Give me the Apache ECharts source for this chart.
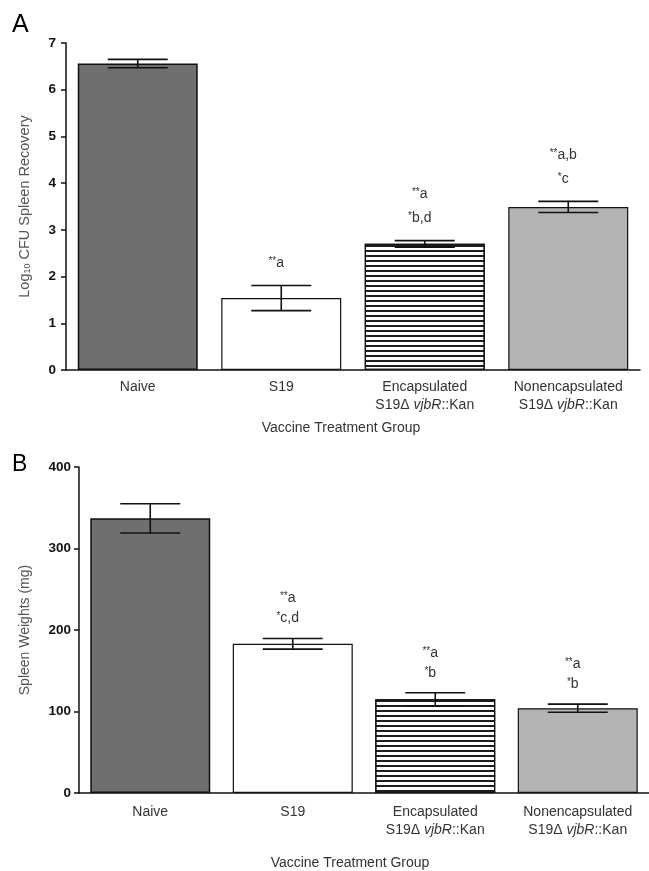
<!DOCTYPE html>
<html><head><meta charset="utf-8">
<script src="https://cdn.jsdelivr.net/npm/echarts@6/dist/echarts.min.js"></script>
<style>html,body{margin:0;padding:0;background:#fff}#c{width:649px;height:871px}</style>
</head><body><div id="c"></div>
<script>
const categories = ['Naive', 'S19', 'Encapsulated\nS19Δ {i|vjbR}::Kan', 'Nonencapsulated\nS19Δ {i|vjbR}::Kan'];
const cfuMeans = [6.56, 1.54, 2.70, 3.49];
const cfuErrors = [0.09, 0.27, 0.07, 0.12];
const weightMeans = [337, 183, 115, 104];
const weightErrors = [18, 6.5, 8, 5];
const cfuNotes = [[], ['**a'], ['**a', '*b,d'], ['**a,b', '*c']];
const weightNotes = [[], ['**a', '*c,d'], ['**a', '*b'], ['**a', '*b']];
const cfuAxis = { min: 0, max: 7, interval: 1 };
const weightAxis = { min: 0, max: 400, interval: 100 };

const FONT = '"Liberation Sans", Arial, Helvetica, sans-serif';
const barStyles = [
  { color: '#6f6f6f', borderColor: '#111', borderWidth: 1.5 },
  { color: '#ffffff', borderColor: '#111', borderWidth: 1.2 },
  { color: '#ffffff', borderColor: '#111', borderWidth: 1.2,
    decal: { symbol: 'rect', symbolSize: 1, dashArrayX: [1, 0], dashArrayY: [1.5, 2.5], rotation: 0, color: '#1e1e1e' } },
  { color: '#b4b4b4', borderColor: '#111', borderWidth: 1.2 }
];

function fmtNote(t) {
  const m = t.match(/^(\*+)(.*)$/);
  return m ? '{s|' + m[1] + '}{t|' + m[2] + '}' : '{t|' + t + '}';
}

function errSeries(idx, means, errs, notes, gap, step) {
  return {
    type: 'custom', xAxisIndex: idx, yAxisIndex: idx, z: 5,
    data: means.map((m, i) => [i, m, errs[i]]),
    encode: { x: 0, y: 1 },
    renderItem: function (params, api) {
      const i = api.value(0), m = api.value(1), e = api.value(2);
      const top = api.coord([i, m + e]);
      const bot = api.coord([i, m - e]);
      const x = top[0], hw = 30;
      const st = { stroke: '#111', lineWidth: 1.6 };
      const children = [
        { type: 'line', shape: { x1: x, y1: top[1], x2: x, y2: bot[1] }, style: st },
        { type: 'line', shape: { x1: x - hw, y1: top[1], x2: x + hw, y2: top[1] }, style: st },
        { type: 'line', shape: { x1: x - hw, y1: bot[1], x2: x + hw, y2: bot[1] }, style: st }
      ];
      const lines = notes[i];
      lines.forEach((t, k) => {
        const fromBottom = lines.length - 1 - k;
        children.push({
          type: 'text', x: x - 5, y: top[1] - gap - fromBottom * step,
          style: {
            text: fmtNote(t), align: 'center', verticalAlign: 'middle',
            fill: '#333', fontFamily: FONT, fontSize: 14,
            rich: {
              s: { fontSize: 10, fontFamily: FONT, fill: '#333', verticalAlign: 'top', padding: [0, 0, 4, 0] },
              t: { fontSize: 14, fontFamily: FONT, fill: '#333' }
            }
          }
        });
      });
      return { type: 'group', children };
    }
  };
}

const chart = echarts.init(document.getElementById('c'), null, { renderer: 'canvas' });

function xAxisCfg(gridIndex, margin, nameGap, namePadRight) {
  return {
    type: 'category', gridIndex, data: categories,
    axisLine: { lineStyle: { color: '#111', width: 1.5 } },
    axisTick: { show: false },
    axisLabel: {
      interval: 0, margin, color: '#333', fontSize: 14, fontFamily: FONT, lineHeight: 18,
      rich: { i: { fontStyle: 'italic', fontSize: 14, fontFamily: FONT, color: '#333', lineHeight: 18 } }
    },
    name: 'Vaccine Treatment Group', nameLocation: 'middle', nameGap,
    nameTextStyle: { color: '#333', fontSize: 14, fontFamily: FONT, padding: [0, namePadRight, 0, 0] }
  };
}

function yAxisCfg(gridIndex, ax, name, nameGap, labelMargin, nameSize) {
  return {
    type: 'value', gridIndex, min: ax.min, max: ax.max, interval: ax.interval,
    axisLine: { show: true, lineStyle: { color: '#111', width: 1.5 } },
    axisTick: { show: true, length: 5, lineStyle: { color: '#111', width: 1.5 } },
    splitLine: { show: false },
    axisLabel: { color: '#111', fontWeight: 'bold', fontSize: 13.5, fontFamily: FONT, margin: labelMargin },
    name, nameLocation: 'middle', nameGap,
    nameTextStyle: {
      color: '#555', fontSize: nameSize, fontFamily: FONT,
      rich: { sub: { fontSize: 9, fontFamily: FONT, color: '#555', verticalAlign: 'bottom' } }
    }
  };
}

chart.setOption({
  animation: false,
  backgroundColor: '#fff',
  title: [
    { text: 'A', left: 12, top: 13, padding: 0, textStyle: { fontSize: 25, fontWeight: 'normal', color: '#000', fontFamily: FONT } },
    { text: 'B', left: 12, top: 453, padding: 0, textStyle: { fontSize: 23, fontWeight: 'normal', color: '#000', fontFamily: FONT } }
  ],
  grid: [
    { left: 66, top: 43, width: 574, height: 327 },
    { left: 79, top: 467, width: 578, height: 328 }
  ],
  xAxis: [xAxisCfg(0, 8, 51, 24), xAxisCfg(1, 10, 63, 28)],
  yAxis: [
    yAxisCfg(0, cfuAxis, 'Log{sub|10} CFU Spleen Recovery', 34, 10, 14.5),
    yAxisCfg(1, weightAxis, 'Spleen Weights (mg)', 47, 8, 14)
  ],
  series: [
    { type: 'bar', xAxisIndex: 0, yAxisIndex: 0, barWidth: 120,
      data: cfuMeans.map((v, i) => ({ value: v, itemStyle: barStyles[i] })) },
    errSeries(0, cfuMeans, cfuErrors, cfuNotes, 22, 24),
    { type: 'bar', xAxisIndex: 1, yAxisIndex: 1, barWidth: 120,
      data: weightMeans.map((v, i) => ({ value: v, itemStyle: barStyles[i] })) },
    errSeries(1, weightMeans, weightErrors, weightNotes, 20, 20)
  ]
});
</script>
</body></html>
